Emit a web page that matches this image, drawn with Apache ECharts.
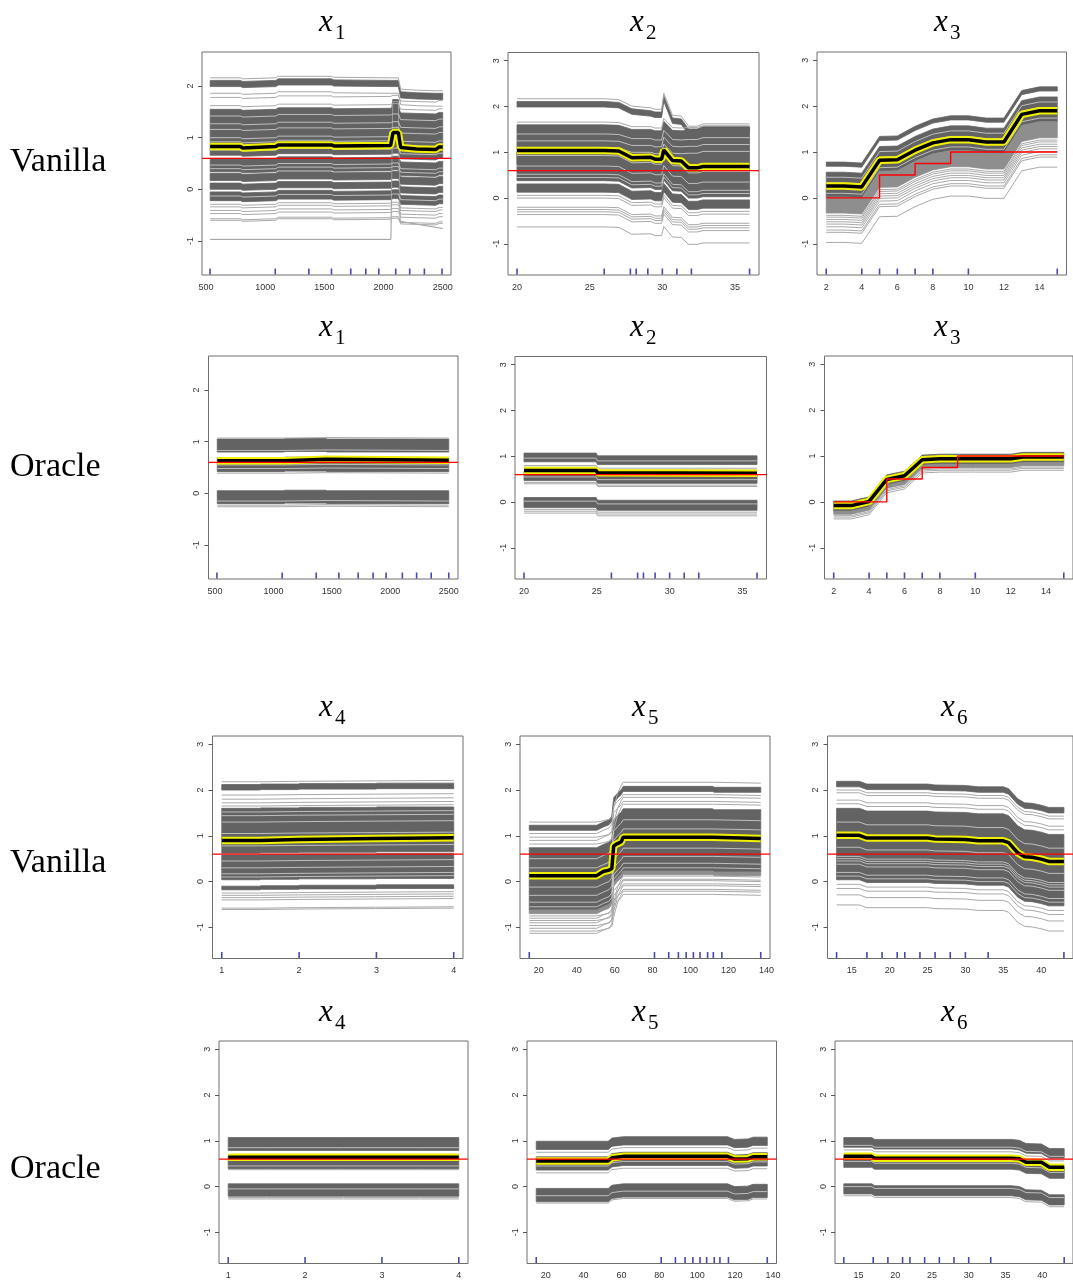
<!DOCTYPE html>
<html><head><meta charset="utf-8">
<script src="https://cdn.jsdelivr.net/npm/echarts@6/dist/echarts.min.js"></script>
<style>html,body{margin:0;padding:0;background:#fff}#c{width:1073px;height:1281px}</style>
</head><body><div id="c"></div>
<script>
// ---------- tick labels ----------
const x1_ticks = [500, 1000, 1500, 2000, 2500];
const x2_ticks = [20, 25, 30, 35];
const x3_ticks = [2, 4, 6, 8, 10, 12, 14];
const x4_ticks = [1, 2, 3, 4];
const x5_ticks = [20, 40, 60, 80, 100, 120, 140];
const x6_ticks = [15, 20, 25, 30, 35, 40];
const yShort_ticks = [-1, 0, 1, 2];
const yLong_ticks = [-1, 0, 1, 2, 3];
const rowLabels = ['Vanilla', 'Oracle', 'Vanilla', 'Oracle'];
const meanLevel = 0.6;
const x3_stepX = [2, 5, 5, 7, 7, 9, 9, 15];
const x3_stepY = [0, 0, 0.5, 0.5, 0.75, 0.75, 1, 1];

// ---------- rug (deciles) ----------
const x1v_rug = [534, 1085, 1369, 1560, 1723, 1850, 1960, 2103, 2221, 2345, 2494];
const x1o_rug = [517, 1075, 1366, 1560, 1725, 1853, 1964, 2103, 2225, 2350, 2500];
const x2_rug = [20, 26, 27.8, 28.2, 29, 30, 31, 32, 36];
const x3_rug = [2, 4, 5, 6, 7, 8, 10, 15];
const x4_rug = [1, 2, 3, 4];
const x5_rug = [15, 81, 88.5, 93.6, 97.7, 101.5, 105, 109, 112, 116.5, 137];
const x6_rug = [13, 17, 19, 21, 22, 24, 26, 28, 30, 33, 43];

// ---------- x1 vanilla ----------
const x1v_x = [535, 790, 810, 1090, 1110, 1560, 1580, 2060, 2080, 2125, 2145, 2280, 2440, 2470, 2500];
const x1v_pdp = [0.83, 0.83, 0.80, 0.83, 0.86, 0.86, 0.84, 0.85, 1.10, 1.10, 0.81, 0.78, 0.77, 0.82, 0.82];
const x1v_shape = [0, 0, -0.02, 0, 0.03, 0.03, 0.01, 0.02, 0.04, 0.04, -0.07, -0.08, -0.09, -0.06, -0.06];
const x1v_shapeTop = [0, 0, -0.02, 0, 0.03, 0.03, 0.01, 0, 0, 0, -0.22, -0.24, -0.25, -0.25, -0.25];
const x1v_bands = [[1.99, 2.11, 1], [0.66, 1.55], [0.34, 0.60], [0.17, 0.31], [0.0, 0.12], [-0.22, -0.05]];
const x1v_lines = [[2.16, 1], [1.86, 1], [1.78], [1.62], [-0.29], [-0.34], [-0.41], [-0.47], [-0.57], [-0.6]];
const x1v_gaps = [[1.42], [1.27], [1.16], [1.0], [0.92], [0.76], [0.47], [0.4], [-0.13]];
const x1v_spikeX = [2066, 2078, 2125, 2135];
const x1v_spikeLo = [1.5, 1.5, 1.5, 1.5];
const x1v_spikeHi = [1.5, 1.74, 1.74, 1.5];
const x1v_oddX = [535, 2062, 2078, 2125, 2140, 2500];
const x1v_oddY = [-0.97, -0.97, 1.7, 1.7, -0.62, -0.76];

// ---------- x2 vanilla ----------
const x2v_x = [20, 26, 27, 27.9, 29.2, 29.5, 29.95, 30.1, 30.7, 31.3, 31.8, 32.4, 32.8, 36];
const x2v_pdp = [1.04, 1.04, 1.03, 0.88, 0.89, 0.85, 0.85, 1.05, 0.82, 0.81, 0.66, 0.66, 0.69, 0.69];
const x2v_shape = [0, 0, -0.01, -0.16, -0.15, -0.19, -0.19, 0.01, -0.22, -0.23, -0.38, -0.38, -0.35, -0.35];
const x2v_shapeTop = [0, 0, -0.02, -0.16, -0.2, -0.23, -0.23, 0.12, -0.36, -0.38, -0.6, -0.6, -0.55, -0.55];
const x2v_shapeUp = [0, 0, -0.01, -0.1, -0.1, -0.13, -0.13, 0.08, -0.12, -0.13, -0.12, -0.12, -0.08, -0.08];
const x2v_bands = [[1.99, 2.11, 1], [0.75, 1.6, 2], [0.38, 1.0], [0.13, 0.31]];
const x2v_lines = [[2.17, 1], [1.66, 2], [0.06], [0.0], [-0.2], [-0.25], [-0.3], [-0.36], [-0.63]];
const x2v_gaps = [[1.4, 2], [1.25, 2], [1.1, 2], [0.93], [0.7], [0.52], [0.45]];

// ---------- x3 vanilla ----------
const x3v_x = [2, 3, 4, 5, 6, 7, 8, 9, 10, 11, 12, 13, 14, 15];
const x3v_pdp = [0.26, 0.26, 0.24, 0.82, 0.83, 1.04, 1.2, 1.27, 1.27, 1.22, 1.22, 1.82, 1.9, 1.9];
const x3v_shape = [0, 0, -0.02, 0.56, 0.57, 0.78, 0.94, 1.01, 1.01, 0.96, 0.96, 1.56, 1.64, 1.64];
const x3v_bands = [[0.69, 0.78], [0.02, 0.56], [-0.33, 0.02, 0, 1]];
const x3v_lines = [[-0.38], [-0.42], [-0.47], [-0.52], [-0.57], [-0.63], [-0.7], [-0.75], [-0.97]];
const x3v_gaps = [[0.45], [0.33], [0.2], [0.1]];

// ---------- x1 oracle ----------
const x1o_x = [520, 1090, 1100, 1450, 1460, 2500];
const x1o_pdp = [0.63, 0.63, 0.66, 0.66, 0.64, 0.64];
const x1o_shape = [0, 0, 0.01, 0.01, 0, 0];
const x1o_bands = [[0.8, 1.05], [0.42, 0.69], [-0.2, 0.05]];
const x1o_lines = [[1.07], [0.39], [-0.23], [-0.26]];
const x1o_gaps = [[0.83], [0.55], [0.48], [-0.15]];

// ---------- x2 oracle ----------
const x2o_x = [20, 24.95, 25.05, 36];
const x2o_pdp = [0.69, 0.69, 0.64, 0.63];
const x2o_shape = [0, 0, -0.06, -0.06];
const x2o_bands = [[0.88, 1.07], [0.47, 0.67], [-0.12, 0.1]];
const x2o_lines = [[0.8], [0.76], [0.43], [0.4], [-0.16], [-0.2], [-0.24]];
const x2o_gaps = [[0.96], [0.55], [0.02]];

// ---------- x3 oracle ----------
const x3o_x = [2, 3, 4, 5, 6, 7, 8, 10, 12, 12.7, 15];
const x3o_pdp = [-0.08, -0.08, 0.01, 0.49, 0.57, 0.92, 0.94, 0.94, 0.94, 0.98, 0.98];
const x3o_shape = [0, 0, 0.09, 0.57, 0.65, 1.0, 1.02, 1.02, 1.02, 1.06, 1.06];
const x3o_bands = [[-0.2, 0.02], [-0.27, -0.2, 0, 1]];
const x3o_lines = [[-0.3], [-0.33], [-0.37]];
const x3o_gaps = [[-0.12]];

// ---------- x4 vanilla ----------
const x4v_x = [1, 1.49, 1.51, 1.99, 2.01, 2.99, 3.01, 4];
const x4v_pdp = [0.9, 0.9, 0.92, 0.92, 0.94, 0.94, 0.96, 0.96];
const x4v_shape = [0, 0, 0.01, 0.01, 0.02, 0.02, 0.03, 0.03];
const x4v_bands = [[2.0, 2.12], [0.62, 1.6], [0.04, 0.58], [-0.18, -0.1]];
const x4v_lines = [[2.18], [1.89], [1.8], [1.72], [1.65], [-0.25], [-0.3], [-0.35], [-0.4], [-0.58], [-0.61]];
const x4v_gaps = [[1.52], [1.44], [1.3], [1.05], [0.78], [0.45], [0.3], [0.17], [0.1]];

// ---------- x5 vanilla ----------
const x5v_x = [15, 50.5, 54, 57, 58.5, 59.5, 61.5, 63.5, 64.5, 111.5, 112.5, 137];
const x5v_pdp = [0.13, 0.13, 0.22, 0.25, 0.28, 0.78, 0.83, 0.87, 0.97, 0.97, 0.94, 0.94];
const x5v_shape = [0, 0, 0.07, 0.12, 0.2, 0.6, 0.7, 0.78, 0.85, 0.85, 0.83, 0.83];
const x5v_shapeLate = [0, 0, 0.03, 0.06, 0.1, 0.3, 0.62, 0.8, 0.87, 0.87, 0.85, 0.85];
const x5v_bands = [[1.12, 1.23], [-0.62, 0.74], [-0.7, -0.62, 0, 1]];
const x5v_lines = [[1.3, 1], [1.05], [0.97, 1], [0.9], [0.82, 1], [-0.75, 1], [-0.8], [-0.85, 1], [-0.9], [-0.96, 1], [-1.02], [-1.08, 1], [-1.13]];
const x5v_gaps = [[0.5], [0.3], [0.1], [-0.12], [-0.3], [-0.45], [-0.55]];

// ---------- x6 vanilla ----------
const x6v_x = [13, 16, 17, 25, 26, 30, 31.7, 35, 35.7, 36.9, 37.8, 38.8, 40, 41, 43];
const x6v_pdp = [1.01, 1.01, 0.95, 0.95, 0.93, 0.92, 0.89, 0.89, 0.85, 0.63, 0.54, 0.53, 0.49, 0.44, 0.44];
const x6v_shape = [0, 0, -0.06, -0.06, -0.08, -0.09, -0.12, -0.12, -0.16, -0.38, -0.47, -0.48, -0.52, -0.57, -0.57];
const x6v_bands = [[2.07, 2.19], [0.04, 1.6]];
const x6v_lines = [[2.0], [1.94], [1.78], [1.7], [-0.06], [-0.15], [-0.29], [-0.51]];
const x6v_gaps = [[1.3], [1.05], [0.75], [0.55], [0.5], [0.45], [0.38], [0.2], [0.12]];

// ---------- x4 oracle ----------
const x4o_x = [1, 1.5, 2.5, 3.5, 4];
const x4o_pdp = [0.64, 0.64, 0.64, 0.64, 0.64];
const x4o_shape = [0, 0, 0, 0, 0];
const x4o_bands = [[0.79, 1.07], [0.39, 0.68], [-0.21, 0.06]];
const x4o_lines = [[0.37], [-0.27], [-0.24]];
const x4o_gaps = [[0.85], [0.45], [-0.05]];

// ---------- x5 oracle ----------
const x5o_x = [15, 53, 55, 61, 116, 119.7, 126.8, 129.5, 137];
const x5o_pdp = [0.56, 0.56, 0.63, 0.66, 0.66, 0.6, 0.61, 0.65, 0.65];
const x5o_shape = [0, 0, 0.07, 0.1, 0.1, 0.04, 0.05, 0.09, 0.09];
const x5o_bands = [[0.81, 0.99], [0.36, 0.65], [-0.33, -0.04]];
const x5o_lines = [[0.75], [0.3], [-0.36]];
const x5o_gaps = [[0.45], [-0.2]];

// ---------- x6 oracle ----------
const x6o_x = [13, 16.8, 17.2, 35.8, 36.9, 37.8, 39.9, 41, 43];
const x6o_pdp = [0.66, 0.66, 0.62, 0.62, 0.61, 0.53, 0.53, 0.42, 0.42];
const x6o_shape = [0, 0, -0.04, -0.04, -0.06, -0.13, -0.14, -0.24, -0.24];
const x6o_bands = [[0.86, 1.07], [0.42, 0.68], [-0.16, 0.06]];
const x6o_lines = [[0.8], [-0.2]];
const x6o_gaps = [[0.9], [0.55], [0.0]];

// ---------- panels (layout) ----------
const panels = [
  {n:1, x:x1v_x, pdp:x1v_pdp, sh:[x1v_shape, x1v_shapeTop], bands:x1v_bands, lines:x1v_lines, gaps:x1v_gaps, rug:x1v_rug, xr:[466,2570], yr:[-1.66,2.66], xt:x1_ticks, yt:yShort_ticks, g:[202,52,249,223], spike:true},
  {n:2, x:x2v_x, pdp:x2v_pdp, sh:[x2v_shape, x2v_shapeTop, x2v_shapeUp], bands:x2v_bands, lines:x2v_lines, gaps:x2v_gaps, rug:x2_rug, xr:[19.38,36.65], yr:[-1.68,3.18], xt:x2_ticks, yt:yLong_ticks, g:[508,52.5,251,222.5]},
  {n:3, x:x3v_x, pdp:x3v_pdp, sh:[x3v_shape], bands:x3v_bands, lines:x3v_lines, gaps:x3v_gaps, rug:x3_rug, xr:[1.48,15.52], yr:[-1.68,3.18], xt:x3_ticks, yt:yLong_ticks, g:[817,52,249.5,223], step:true},
  {n:1, x:x1o_x, pdp:x1o_pdp, sh:[x1o_shape], bands:x1o_bands, lines:x1o_lines, gaps:x1o_gaps, rug:x1o_rug, xr:[445,2579], yr:[-1.66,2.66], xt:x1_ticks, yt:yShort_ticks, g:[208.5,356,249.5,223]},
  {n:2, x:x2o_x, pdp:x2o_pdp, sh:[x2o_shape], bands:x2o_bands, lines:x2o_lines, gaps:x2o_gaps, rug:x2_rug, xr:[19.38,36.65], yr:[-1.68,3.18], xt:x2_ticks, yt:yLong_ticks, g:[515,356.5,251.5,222.5]},
  {n:3, x:x3o_x, pdp:x3o_pdp, sh:[x3o_shape], bands:x3o_bands, lines:x3o_lines, gaps:x3o_gaps, rug:x3_rug, xr:[1.48,15.52], yr:[-1.68,3.18], xt:x3_ticks, yt:yLong_ticks, g:[824.5,356,250,223], step:true},
  {n:4, x:x4v_x, pdp:x4v_pdp, sh:[x4v_shape], bands:x4v_bands, lines:x4v_lines, gaps:x4v_gaps, rug:x4_rug, xr:[0.88,4.12], yr:[-1.68,3.18], xt:x4_ticks, yt:yLong_ticks, g:[212.5,736,250.5,222.5]},
  {n:5, x:x5v_x, pdp:x5v_pdp, sh:[x5v_shape, x5v_shapeLate], bands:x5v_bands, lines:x5v_lines, gaps:x5v_gaps, rug:x5_rug, xr:[10.12,141.88], yr:[-1.68,3.18], xt:x5_ticks, yt:yLong_ticks, g:[520,736,250,222.5]},
  {n:6, x:x6v_x, pdp:x6v_pdp, sh:[x6v_shape], bands:x6v_bands, lines:x6v_lines, gaps:x6v_gaps, rug:x6_rug, xr:[11.8,44.2], yr:[-1.68,3.18], xt:x6_ticks, yt:yLong_ticks, g:[827.5,736,250,222.5]},
  {n:4, x:x4o_x, pdp:x4o_pdp, sh:[x4o_shape], bands:x4o_bands, lines:x4o_lines, gaps:x4o_gaps, rug:x4_rug, xr:[0.88,4.12], yr:[-1.68,3.18], xt:x4_ticks, yt:yLong_ticks, g:[219,1041,249,222.5]},
  {n:5, x:x5o_x, pdp:x5o_pdp, sh:[x5o_shape], bands:x5o_bands, lines:x5o_lines, gaps:x5o_gaps, rug:x5_rug, xr:[10.12,141.88], yr:[-1.68,3.18], xt:x5_ticks, yt:yLong_ticks, g:[527,1041,249.5,222.5]},
  {n:6, x:x6o_x, pdp:x6o_pdp, sh:[x6o_shape], bands:x6o_bands, lines:x6o_lines, gaps:x6o_gaps, rug:x6_rug, xr:[11.8,44.2], yr:[-1.68,3.18], xt:x6_ticks, yt:yLong_ticks, g:[835,1041,250,222.5]}
];
const titlePos = [[333,22],[644,22],[948,22],[333,327],[644,327],[948,327],[333,707],[646,707],[955,707],[333,1012],[646,1012],[955,1012]];
const rowY = [162, 467, 863, 1169];

const DARK = '#636363', MID = '#8e8e8e', THIN = '#a9a9a9', GAP = '#d6d6d6';
const AXFONT = 'Liberation Sans, Arial, sans-serif';

const grids = [], xAxes = [], yAxes = [], series = [], graphics = [];

function bandSeries(k, xs, lo, hi, color, z) {
  return {type:'custom', xAxisIndex:k, yAxisIndex:k, silent:true, animation:false, clip:true, z:z,
    data:[[xs[0], lo[0]]],
    renderItem: function(params, api) {
      const pts = [];
      for (let i = 0; i < xs.length; i++) pts.push(api.coord([xs[i], lo[i]]));
      for (let i = xs.length - 1; i >= 0; i--) pts.push(api.coord([xs[i], hi[i]]));
      return {type:'polygon', shape:{points:pts}, style:{fill:color, stroke:color, lineWidth:0.8}};
    }};
}
function lineSeries(k, xs, ys, color, width, z) {
  return {type:'line', xAxisIndex:k, yAxisIndex:k, data: xs.map((x, i) => [x, ys[i]]),
    showSymbol:false, symbol:'none', silent:true, animation:false, z:z, clip:true,
    lineStyle:{color:color, width:width}, emphasis:{disabled:true}};
}
const plain = v => String(v);

panels.forEach((p, k) => {
  grids.push({left:p.g[0], top:p.g[1], width:p.g[2], height:p.g[3], show:true, borderColor:'#6e6e6e', borderWidth:1, containLabel:false});
  xAxes.push({type:'value', gridIndex:k, min:p.xr[0], max:p.xr[1],
    axisLine:{show:false}, axisTick:{show:false}, splitLine:{show:false},
    axisLabel:{customValues:p.xt, formatter:plain, fontSize:9, color:'#333', margin:8, fontFamily:AXFONT}});
  yAxes.push({type:'value', gridIndex:k, min:p.yr[0], max:p.yr[1],
    axisLine:{show:false}, splitLine:{show:false},
    axisTick:{show:true, customValues:p.yt, length:4, lineStyle:{color:'#555', width:1}},
    axisLabel:{customValues:p.yt, formatter:plain, rotate:90, fontSize:9, color:'#333', margin:7, fontFamily:AXFONT}});

  const curve = (off, si) => p.x.map((_, i) => off + p.sh[si || 0][i]);
  p.bands.forEach(b => {
    series.push(bandSeries(k, p.x, curve(b[0], b[2]), curve(b[1], b[2]), b[3] ? MID : DARK, 2));
  });
  if (p.spike) {
    series.push(bandSeries(k, x1v_spikeX, x1v_spikeLo, x1v_spikeHi, DARK, 2));
    series.push(lineSeries(k, x1v_oddX, x1v_oddY, '#9a9a9a', 1, 3));
  }
  p.lines.forEach(l => series.push(lineSeries(k, p.x, curve(l[0], l[1]), THIN, 1, 3)));
  p.gaps.forEach(l => series.push(lineSeries(k, p.x, curve(l[0], l[1]), GAP, 0.8, 4)));
  // partial dependence curve: yellow halo + black core
  series.push(lineSeries(k, p.x, p.pdp, '#f0f000', 7.5, 7));
  series.push(lineSeries(k, p.x, p.pdp, '#000000', 3.5, 8));
  // red reference
  if (p.step) series.push(lineSeries(k, x3_stepX, x3_stepY, '#ff0000', 1.4, 9));
  else series.push(lineSeries(k, p.xr, [meanLevel, meanLevel], '#ff0000', 1.4, 9));
  // rug
  series.push({type:'scatter', xAxisIndex:k, yAxisIndex:k, data:p.rug.map(r => [r, p.yr[0]]),
    symbol:'rect', symbolSize:[1.6, 6], symbolOffset:[0, -3.5], silent:true, animation:false, clip:false, z:10,
    itemStyle:{color:'#1b1b96'}});

  // title x_n
  const tp = titlePos[k];
  graphics.push({type:'text', x:tp[0] - 14, y:tp[1] + 1, style:{text:'x', font:'italic 31px "Liberation Serif", serif', fill:'#000', verticalAlign:'middle', align:'left'}});
  graphics.push({type:'text', x:tp[0] + 2, y:tp[1] + 11, style:{text:String(p.n), font:'21px "Liberation Serif", serif', fill:'#000', verticalAlign:'middle', align:'left'}});
});
rowLabels.forEach((t, i) => {
  graphics.push({type:'text', x:10, y:rowY[i], style:{text:t, font:'34px "Liberation Serif", serif', fill:'#000', verticalAlign:'middle', align:'left'}});
});

const chart = echarts.init(document.getElementById('c'), null, {renderer:'canvas'});
chart.setOption({
  animation:false, backgroundColor:'#ffffff',
  grid:grids, xAxis:xAxes, yAxis:yAxes, series:series, graphic:graphics
});
</script></body></html>
